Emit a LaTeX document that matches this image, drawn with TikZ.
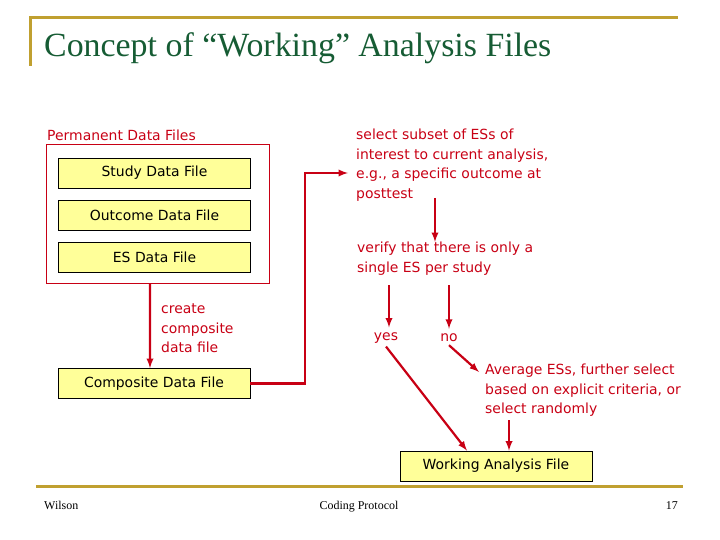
\documentclass[tikz,border=0pt]{standalone}
\usepackage{fontspec}
\setmainfont{Liberation Serif}
\newfontfamily\boxfont{DejaVu Sans}
\definecolor{gold}{RGB}{192,160,48}
\definecolor{titlegreen}{RGB}{22,92,52}
\definecolor{darkred}{RGB}{200,0,20}
\definecolor{boxyellow}{RGB}{255,255,153}
\begin{document}
\begin{tikzpicture}[x=1bp,y=-1bp]
\tikzstyle{arrow}=[draw,darkred,line width=2.2bp,-latex]
\tikzstyle{line}=[draw=darkred,line width=1bp]
\tikzstyle{file}=[draw,fill=boxyellow,line width=.8bp,minimum width=192bp,minimum height=30bp,inner sep=0,font=\boxfont\fontsize{14}{17}\selectfont]
\tikzstyle{note}=[darkred,inner sep=0,align=left,anchor=north west,font=\boxfont\fontsize{14}{19.5}\selectfont]
\tikzstyle{rule}=[draw,gold,line width=3bp]
\tikzstyle{foot}=[inner sep=0,anchor=base,font=\fontsize{12}{14}\selectfont]
\useasboundingbox(0,0)rectangle(720,540);
\path[rule](30,66)--(30,18)--(678,18);
\path[rule](36,486)--(683,486);
\node[inner sep=0,anchor=base west,titlegreen,font=\fontsize{34}{39}\selectfont](title)at(44,57){Concept of “Working” Analysis Files};
\node[note,anchor=west](permlabel)at(47,135){Permanent Data Files};
\node[line,minimum width=222bp,minimum height=138bp](perm)at(158,214){};
\node[file](study)at(154.5,173){Study Data File};
\node[file](outcome)at(154.5,215){Outcome Data File};
\node[file](es)at(154.5,257){ES Data File};
\node[note](create)at(161,304){create\\composite\\data file};
\node[file](comp)at(154,383.5){Composite Data File};
\node[note](sel)at(356,129){select subset of ESs of\\interest to current analysis,\\e.g., a specific outcome at\\posttest};
\node[note](verify)at(357,242){verify that there is only a\\single ES per study};
\node[note,anchor=center](yes)at(386,338){yes};
\node[note,anchor=center](no)at(449,338){no};
\node[note](avg)at(485,364){Average ESs, further select\\based on explicit criteria, or\\select randomly};
\node[file](work)at(496,466){Working Analysis File};
\node[foot,anchor=base west](author)at(44,509){Wilson};
\node[foot](protocol)at(359,509){Coding Protocol};
\node[foot,anchor=base east](page)at(678,509){17};
\coordinate(bend)at(305,173);
\coordinate(selin)at(348,173);
\coordinate(selout)at(435,198);
\coordinate(vyes)at(389,285);
\coordinate(vno)at(449,285);
\coordinate(avgin)at(479,372);
\coordinate(avgout)at(509,420);
\path[arrow]([xshift=-8bp]perm.south)--([xshift=-4bp]comp.north);
\path[arrow](comp.east)-|(bend)--(selin);
\path[arrow](selout)--(selout|-verify.north);
\path[arrow](vyes)--([yshift=5bp]yes.north-|vyes);
\path[arrow](vno)--([yshift=5bp]no.north-|vno);
\path[arrow]([yshift=-3bp]yes.south)--([xshift=-29bp]work.north);
\path[arrow]([yshift=-3bp]no.south)--(avgin);
\path[arrow](avgout)--(avgout|-work.north);
\end{tikzpicture}
\end{document}
